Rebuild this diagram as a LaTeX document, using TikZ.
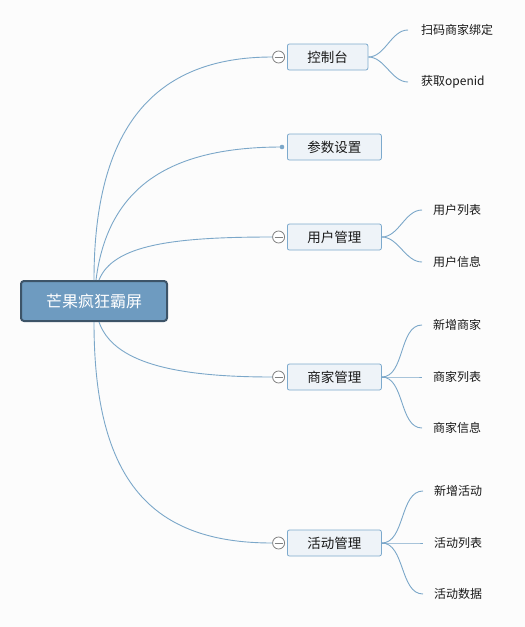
\documentclass[tikz,border=0pt]{standalone}
\usepackage{fontspec}
\setmainfont{Noto Sans CJK SC}
\usepackage{tikz}
\usetikzlibrary{positioning}

\definecolor{linkblue}{HTML}{7BA7C9}
\definecolor{rootfill}{HTML}{6E9BC0}
\definecolor{rootline}{HTML}{3D5468}
\definecolor{boxfill}{HTML}{EEF3F8}
\definecolor{boxline}{HTML}{7DAACD}
\definecolor{bgcol}{HTML}{FCFCFC}

\begin{document}
\begin{tikzpicture}[x=1pt, y=-1pt,
  rootbox/.style={draw=rootline, line width=2pt, fill=rootfill, rounded corners=3pt,
    minimum width=146pt, minimum height=40pt, text=white,
    font=\fontsize{16}{18}\selectfont},
  topic/.style={draw=boxline, line width=0.8pt, fill=boxfill, rounded corners=2pt,
    anchor=west, inner xsep=20pt, minimum height=26pt, text=black!90,
    font=\fontsize{13.5}{16}\selectfont},
  leaf/.style={anchor=west, inner xsep=11pt, text=black!90,
    font=\fontsize{12}{14}\selectfont},
  fold/.style={circle, draw=black!50, fill=white, line width=0.8pt,
    minimum size=12pt, inner sep=0pt},
  link/.style={draw=linkblue, line width=0.9pt},
]
\fill[bgcol] (0,0) rectangle (525,627);
\useasboundingbox (0,0) rectangle (525,627);

% central topic
\node[rootbox] (root) at (94,301) {芒果疯狂霸屏};

% main topics
\node[topic] (ctl) at (287,57) {控制台};
\node[topic] (param) at (287,147) {参数设置};
\node[topic] (user) at (287,237) {用户管理};
\node[topic] (shop) at (287,377) {商家管理};
\node[topic] (act) at (287,543) {活动管理};

% fold buttons
\node[fold, left=2pt of ctl] (ctlf) {};
\node[fold, left=2pt of user] (userf) {};
\node[fold, left=2pt of shop] (shopf) {};
\node[fold, left=2pt of act] (actf) {};
\foreach \f in {ctlf,userf,shopf,actf}
  \draw[black!50, line width=0.8pt] ([xshift=2.5pt]\f.west) -- ([xshift=-2.5pt]\f.east);
\coordinate (paramd) at ([xshift=-5pt]param.west);
\fill[linkblue] (paramd) circle (2.3pt);

% links from the centre
\draw[link] ([xshift=0pt]root.north) .. controls +(0,-150) and +(-120,0) .. (ctlf.west);
\draw[link] ([xshift=2pt]root.north) .. controls +(12,-95) and +(-110,0) .. (paramd);
\draw[link] ([xshift=5pt]root.north) .. controls +(14,-35) and +(-100,0) .. (userf.west);
\draw[link] ([xshift=5pt]root.south) .. controls +(14,40) and +(-100,0) .. (shopf.west);
\draw[link] ([xshift=0pt]root.south) .. controls +(0,160) and +(-120,0) .. (actf.west);

% subtopics
\node[leaf, inner xsep=13pt] (ctl1) at (408,30) {扫码商家绑定};
\node[leaf, inner xsep=13pt] (ctl2) at (408,82) {获取openid};
\node[leaf] (user1) at (422,210) {用户列表};
\node[leaf] (user2) at (422,262) {用户信息};
\node[leaf] (shop1) at (422,325) {新增商家};
\node[leaf] (shop2) at (422,377) {商家列表};
\node[leaf] (shop3) at (422,428) {商家信息};
\node[leaf] (act1) at (423,491) {新增活动};
\node[leaf] (act2) at (423,543) {活动列表};
\node[leaf] (act3) at (423,594) {活动数据};

\foreach \a/\b in {ctl/ctl1,ctl/ctl2,user/user1,user/user2,shop/shop1,shop/shop2,shop/shop3,act/act1,act/act2,act/act3}
  \draw[link] (\a.east) to[out=0, in=180, looseness=0.9] (\b.west);
\end{tikzpicture}
\end{document}
